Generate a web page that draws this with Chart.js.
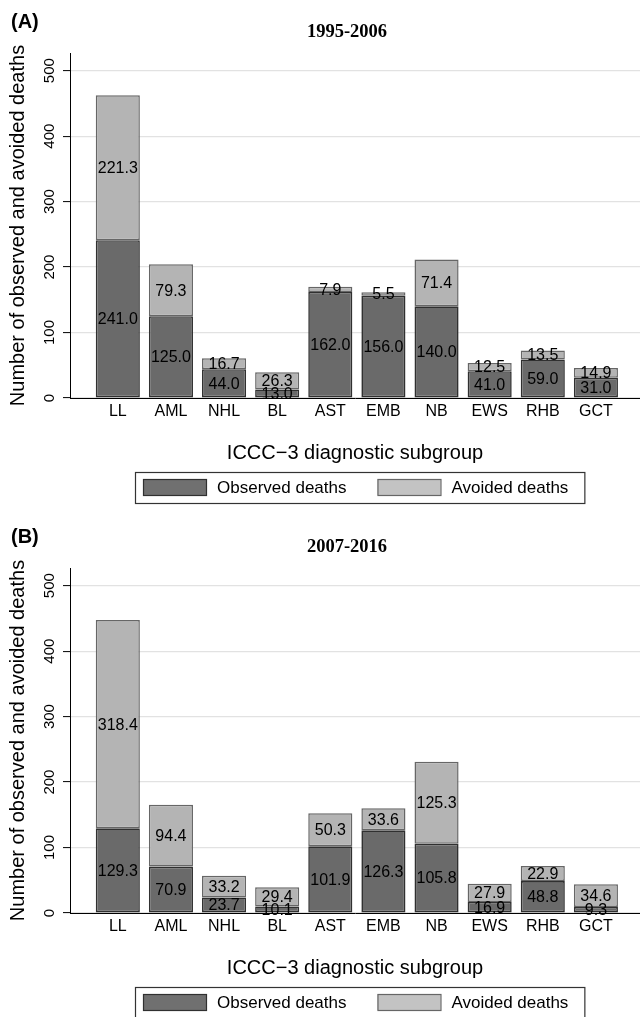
<!DOCTYPE html>
<html>
<head>
<meta charset="utf-8">
<script src="https://cdn.jsdelivr.net/npm/chart.js@4.4.1/dist/chart.umd.min.js"></script>
<style>
  html, body { margin: 0; padding: 0; background: #fff; }
  #wrap { position: relative; width: 640px; height: 1017px; overflow: hidden; }
  canvas { position: absolute; left: 0; }
</style>
</head>
<body>
<div id="wrap">
  <canvas id="chartA" width="640" height="515" style="top:0"></canvas>
  <canvas id="chartB" width="640" height="515" style="top:515px"></canvas>
</div>
<script>
// ICCC-3 subgroups
const categories = ["LL", "AML", "NHL", "BL", "AST", "EMB", "NB", "EWS", "RHB", "GCT"];

// (A) 1995-2006
const observedA = [241.0, 125.0, 44.0, 13.0, 162.0, 156.0, 140.0, 41.0, 59.0, 31.0];
const avoidedA  = [221.3, 79.3, 16.7, 26.3, 7.9, 5.5, 71.4, 12.5, 13.5, 14.9];

// (B) 2007-2016
const observedB = [129.3, 70.9, 23.7, 10.1, 101.9, 126.3, 105.8, 16.9, 48.8, 9.3];
const avoidedB  = [318.4, 94.4, 33.2, 29.4, 50.3, 33.6, 125.3, 27.9, 22.9, 34.6];

const yTicks = [0, 100, 200, 300, 400, 500];
const yTitle = "Number of observed and avoided deaths";
const xTitle = "ICCC\u22123 diagnostic subgroup";

const SANS = '"Liberation Sans", Arial, Helvetica, sans-serif';
const SERIF = '"Liberation Serif", "Times New Roman", serif';

// value written in the middle of every bar segment
const segmentLabels = {
  id: "segmentLabels",
  afterDatasetsDraw(chart) {
    const ctx = chart.ctx;
    ctx.save();
    ctx.font = "16px " + SANS;
    ctx.fillStyle = "#000";
    ctx.textAlign = "center";
    ctx.textBaseline = "middle";
    chart.data.datasets.forEach((ds, i) => {
      chart.getDatasetMeta(i).data.forEach((bar, j) => {
        const v = ds.data[j].y;
        ctx.fillText(v.toFixed(1), bar.x, (bar.y + bar.base) / 2 + 1);
      });
    });
    ctx.restore();
  }
};

// panel tag, period title and the boxed legend under the x title
const panelDeco = {
  id: "panelDeco",
  afterDraw(chart, args, opts) {
    const ctx = chart.ctx;
    ctx.save();
    ctx.fillStyle = "#000";
    ctx.textBaseline = "middle";
    ctx.textAlign = "left";
    ctx.font = "bold 20px " + SANS;
    ctx.fillText(opts.tag, 11, 22);

    ctx.textAlign = "center";
    ctx.font = "bold 18.5px " + SERIF;
    ctx.fillText(opts.period, 347, 32);

    ctx.textAlign = "left";
    ctx.font = "17px " + SANS;
    const sw = 63, sh = 16, gapText = 11, gapItem = 31, padL = 8, padR = 16, h = 31;
    const items = chart.data.datasets.map(ds => ({
      label: ds.label, fill: ds.legendFill, stroke: ds.borderColor,
      w: ctx.measureText(ds.label).width
    }));
    let total = padL + padR + gapItem * (items.length - 1);
    items.forEach(it => { total += sw + gapText + it.w; });
    const left = Math.round(360 - total / 2);
    const top = 472;
    ctx.strokeStyle = "#333";
    ctx.lineWidth = 1.2;
    ctx.strokeRect(left + 0.5, top + 0.5, total, h);
    let x = left + padL;
    items.forEach(it => {
      ctx.fillStyle = it.fill;
      ctx.fillRect(x, top + 7, sw, sh);
      ctx.strokeStyle = it.stroke;
      ctx.lineWidth = 1.2;
      ctx.strokeRect(x + 0.5, top + 7.5, sw, sh);
      ctx.fillStyle = "#000";
      ctx.fillText(it.label, x + sw + gapText, top + h / 2 + 1);
      x += sw + gapText + it.w + gapItem;
    });
    ctx.restore();
  }
};

function makePanel(id, tag, period, observed, avoided) {
  return new Chart(document.getElementById(id), {
    type: "bar",
    data: {
      datasets: [
        {
          label: "Observed deaths",
          data: observed.map((v, i) => ({ x: i, y: v })),
          backgroundColor: "#6a6a6a",
          legendFill: "#707070",
          borderColor: "#303030",
          borderWidth: 1.6,
          borderSkipped: false,
          categoryPercentage: 1,
          barPercentage: 0.83
        },
        {
          label: "Avoided deaths",
          data: avoided.map((v, i) => ({ x: i, y: v })),
          backgroundColor: "#b4b4b4",
          legendFill: "#c3c3c3",
          borderColor: "#666666",
          borderWidth: 1.5,
          borderSkipped: false,
          categoryPercentage: 1,
          barPercentage: 0.83
        }
      ]
    },
    options: {
      responsive: false,
      animation: false,
      layout: { padding: { top: 53, left: 0, right: 0, bottom: 0 } },
      plugins: {
        legend: { display: false },
        tooltip: { enabled: false },
        panelDeco: { tag: tag, period: period }
      },
      scales: {
        x: {
          type: "linear",
          stacked: true,
          offset: false,
          min: -0.9,
          max: 9.83,
          afterFit: s => { s.height = 117; },
          grid: { display: false, drawTicks: false },
          border: { color: "#000", width: 1 },
          ticks: {
            stepSize: 1,
            includeBounds: false,
            autoSkip: false,
            maxRotation: 0,
            padding: 4,
            color: "#000",
            font: { family: SANS, size: 16 },
            callback: v => categories[v] ?? ""
          },
          title: {
            display: true,
            text: xTitle,
            color: "#000",
            font: { family: SANS, size: 20, lineHeight: 1.2 },
            padding: { top: 0, bottom: 50 }
          }
        },
        y: {
          stacked: true,
          min: 0,
          max: 527,
          afterFit: s => { s.width = 70; },
          afterBuildTicks: s => { s.ticks = yTicks.map(v => ({ value: v })); },
          grid: { color: "#e2e2e2", lineWidth: 1.2, tickLength: 7, tickColor: "#000", tickWidth: 1 },
          border: { color: "#000", width: 1 },
          ticks: {
            minRotation: 90,
            maxRotation: 90,
            crossAlign: "center",
            padding: 1,
            color: "#000",
            font: { family: SANS, size: 15 }
          },
          title: {
            display: true,
            text: yTitle,
            color: "#000",
            font: { family: SANS, size: 20, lineHeight: 1.2 },
            padding: { top: 6, bottom: 0 }
          }
        }
      }
    },
    plugins: [segmentLabels, panelDeco]
  });
}

makePanel("chartA", "(A)", "1995-2006", observedA, avoidedA);
makePanel("chartB", "(B)", "2007-2016", observedB, avoidedB);
</script>
</body>
</html>
